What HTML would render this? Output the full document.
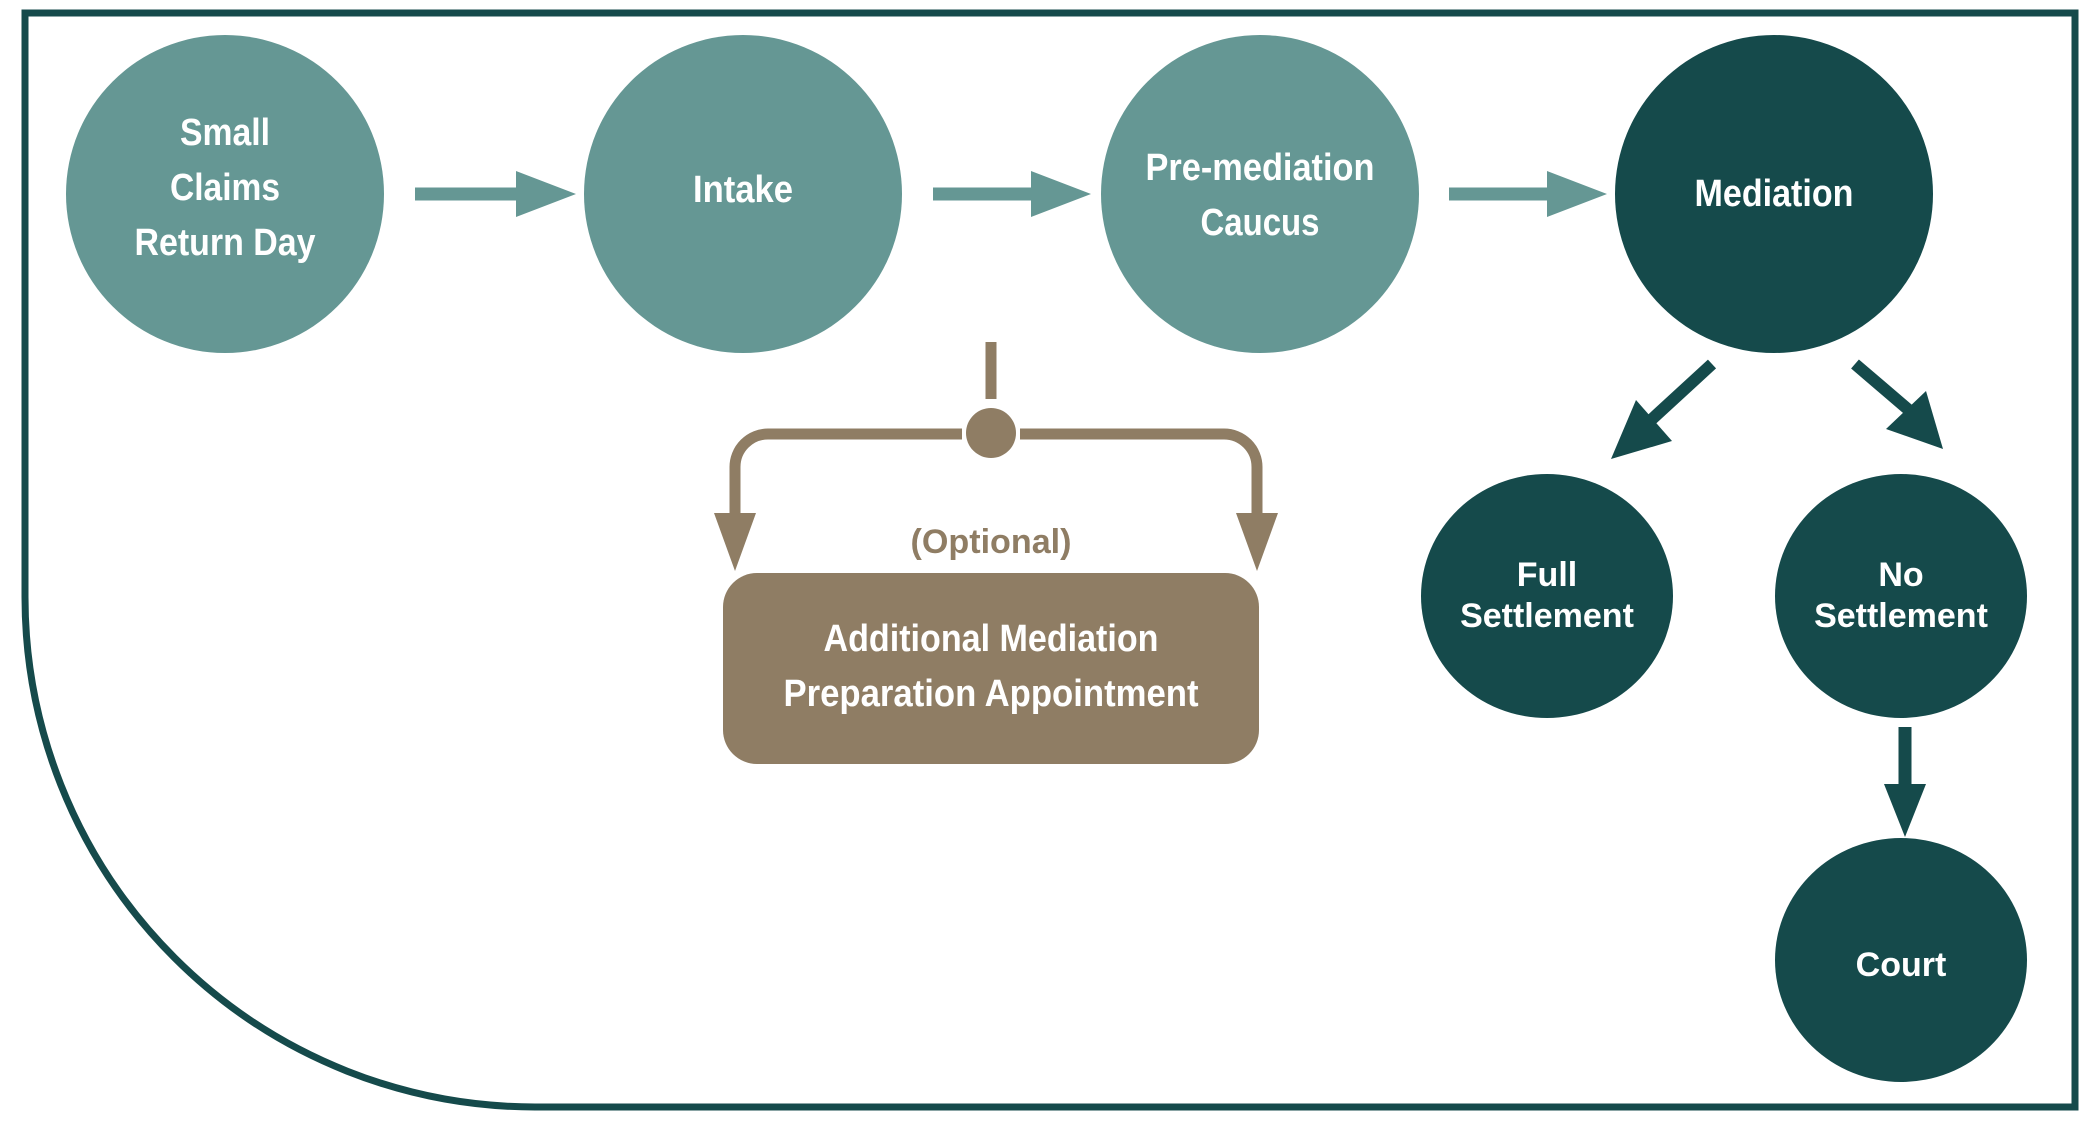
<!DOCTYPE html>
<html><head><meta charset="utf-8"><style>
html,body{margin:0;padding:0;background:#fff;}
svg{display:block}
.n{font-family:"Liberation Sans Narrow","Liberation Sans",sans-serif;font-weight:bold;fill:#fff;text-anchor:middle}
.w{font-family:"Liberation Sans",sans-serif;font-weight:bold;fill:#fff;text-anchor:middle}
</style></head><body>
<svg width="2100" height="1125" viewBox="0 0 2100 1125" xmlns="http://www.w3.org/2000/svg">
<path d="M25 13 H2075 V1107 H535 A510 510 0 0 1 25 597 Z" fill="#fff" stroke="#154a4b" stroke-width="7"/>
<g fill="#659794">
<circle cx="225" cy="194" r="159"/>
<circle cx="743" cy="194" r="159"/>
<circle cx="1260" cy="194" r="159"/>
<path d="M415 187.5 H516 V171 L576 194 L516 217 V200.5 H415 Z"/>
<path d="M933 187.5 H1031 V171 L1091 194 L1031 217 V200.5 H933 Z"/>
<path d="M1449 187.5 H1547 V171 L1607 194 L1547 217 V200.5 H1449 Z"/>
</g>
<g fill="#154a4b">
<circle cx="1774" cy="194" r="159"/>
<ellipse cx="1547" cy="596" rx="126" ry="122"/>
<ellipse cx="1901" cy="596" rx="126" ry="122"/>
<ellipse cx="1901" cy="960" rx="126" ry="122"/>
<path d="M1905 727 V784" stroke="#154a4b" stroke-width="13"/>
<path d="M1884 784 H1926 L1905 837 Z"/>
<path d="M1712 364 L1650 421" stroke="#154a4b" stroke-width="12"/>
<path d="M1636 400 L1611 459 L1672 441 Z"/>
<path d="M1855 364 L1910 411" stroke="#154a4b" stroke-width="12"/>
<path d="M1926 391 L1943 449 L1886 429 Z"/>
</g>
<g fill="#8f7d64">
<rect x="985.5" y="342" width="11" height="57"/>
<circle cx="991" cy="433" r="25"/>
<path d="M962 434 H768 A33 33 0 0 0 735 467 V520 M1020 434 H1224 A33 33 0 0 1 1257 467 V520" fill="none" stroke="#8f7d64" stroke-width="11"/>
<path d="M714 513 H756 L735 571 Z"/>
<path d="M1236 513 H1278 L1257 571 Z"/>
<rect x="723" y="573" width="536" height="191" rx="34"/>
<text x="991" y="553" class="n" style="fill:#8f7d64" font-size="34" textLength="161" lengthAdjust="spacingAndGlyphs">(Optional)</text>
</g>
<g font-size="38">
<text class="n" x="225" y="145" textLength="90" lengthAdjust="spacingAndGlyphs">Small</text>
<text class="n" x="225" y="200" textLength="110" lengthAdjust="spacingAndGlyphs">Claims</text>
<text class="n" x="225" y="255" textLength="181" lengthAdjust="spacingAndGlyphs">Return Day</text>
<text class="n" x="743" y="202" textLength="100" lengthAdjust="spacingAndGlyphs">Intake</text>
<text class="n" x="1260" y="180" textLength="229" lengthAdjust="spacingAndGlyphs">Pre-mediation</text>
<text class="n" x="1260" y="235" textLength="119" lengthAdjust="spacingAndGlyphs">Caucus</text>
<text class="n" x="1774" y="206" textLength="159" lengthAdjust="spacingAndGlyphs">Mediation</text>
<text class="n" x="991" y="651" textLength="335" lengthAdjust="spacingAndGlyphs">Additional Mediation</text>
<text class="n" x="991" y="706" textLength="415" lengthAdjust="spacingAndGlyphs">Preparation Appointment</text>
</g>
<g font-size="34">
<text class="w" x="1547" y="586">Full</text>
<text class="w" x="1547" y="627">Settlement</text>
<text class="w" x="1901" y="586">No</text>
<text class="w" x="1901" y="627">Settlement</text>
<text class="w" x="1901" y="976">Court</text>
</g>
</svg>
</body></html>
